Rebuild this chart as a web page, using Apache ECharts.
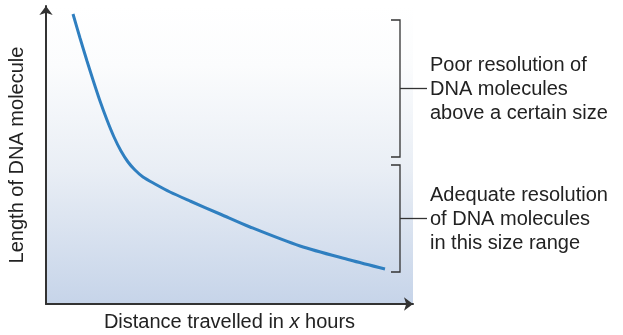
<!DOCTYPE html>
<html>
<head>
<meta charset="utf-8">
<script src="https://cdn.jsdelivr.net/npm/echarts@6/dist/echarts.min.js"></script>
<style>html,body{margin:0;padding:0;background:#fff}#c{width:623px;height:335px}</style>
</head>
<body>
<div id="c"></div>
<script>
// Curve: distance travelled (x) vs length of DNA molecule (y), arbitrary units
const distance = [27, 34, 41, 48, 54, 61, 68, 75, 82, 89, 97, 109, 124, 144, 174, 204, 254, 304, 339];
const length   = [290, 266, 243, 221, 203, 184, 167, 153, 142, 134, 127, 120, 112, 103, 90, 77, 58, 44, 35];
const xName = 'Distance travelled in ';
const xItalic = 'x';
const xNameEnd = ' hours';
const yName = 'Length of DNA molecule';
// Bracket ranges (in y units) and their labels
const upperRange = [147, 284];
const lowerRange = [32, 139];
const upperText = ['Poor resolution of', 'DNA molecules', 'above a certain size'];
const lowerText = ['Adequate resolution', 'of DNA molecules', 'in this size range'];
const xMax = 367, yMax = 298;

const font = '"Liberation Sans", Arial, Helvetica, sans-serif';
const chart = echarts.init(document.getElementById('c'), null, {renderer: 'canvas'});
const axisLine = {show: true, symbol: ['none', 'arrow'], symbolSize: [10, 9], lineStyle: {color: '#333333', width: 2}};
chart.setOption({
  animation: false,
  grid: {
    left: 46, right: 210, top: 6, bottom: 31, show: true, borderWidth: 0,
    containLabel: false, outerBoundsMode: 'none',
    backgroundColor: new echarts.graphic.LinearGradient(0, 0, 0, 1, [
      {offset: 0, color: '#ffffff'}, {offset: 0.2, color: '#fbfcfd'}, {offset: 0.55, color: '#e9eef5'}, {offset: 1, color: '#c6d4e9'}
    ])
  },
  xAxis: {
    type: 'value', min: 0, max: xMax,
    axisLine: axisLine, axisTick: {show: false}, axisLabel: {show: false}, splitLine: {show: false},
    name: '{n|' + xName + '}{i|' + xItalic + '}{n|' + xNameEnd + '}', nameLocation: 'middle', nameGap: 8,
    nameTextStyle: {rich: {n: {fontFamily: font, fontSize: 20, color: '#222'}, i: {fontFamily: font, fontSize: 20, fontStyle: 'italic', color: '#222'}}}
  },
  yAxis: {
    type: 'value', min: 0, max: yMax,
    axisLine: axisLine, axisTick: {show: false}, axisLabel: {show: false}, splitLine: {show: false},
    name: yName, nameLocation: 'middle', nameGap: 19,
    nameTextStyle: {fontFamily: font, fontSize: 20, color: '#222'}
  },
  series: [{
    type: 'line', smooth: 0.3, symbol: 'none',
    data: distance.map((d, i) => [d, length[i]]),
    lineStyle: {color: '#2f7fc0', width: 3}
  }]
});

function bracket(range, lines) {
  const yTop = chart.convertToPixel({yAxisIndex: 0}, range[1]);
  const yBot = chart.convertToPixel({yAxisIndex: 0}, range[0]);
  const xv = 400, mid = (yTop + yBot) / 2;
  const st = {stroke: '#333', lineWidth: 1.3, fill: null};
  return [
    {type: 'polyline', shape: {points: [[391, yTop], [xv, yTop], [xv, yBot], [391, yBot]]}, style: st},
    {type: 'line', shape: {x1: xv, y1: mid, x2: 427, y2: mid}, style: st},
    {type: 'text', x: 430, y: mid + 1, style: {text: lines.join('\n'), font: '20px ' + font, fill: '#222', lineHeight: 24, verticalAlign: 'middle', align: 'left'}}
  ];
}
chart.setOption({graphic: {elements: bracket(upperRange, upperText).concat(bracket(lowerRange, lowerText))}});
</script>
</body>
</html>
